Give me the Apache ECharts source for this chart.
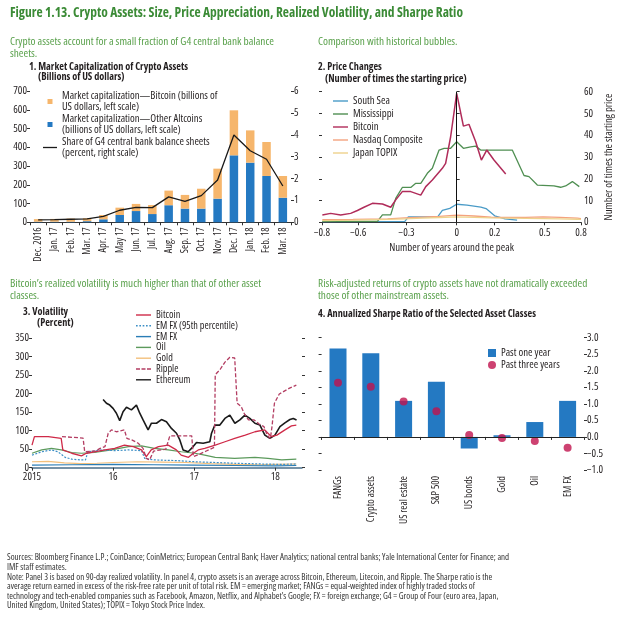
<!DOCTYPE html>
<html><head><meta charset="utf-8">
<script src="https://cdn.jsdelivr.net/npm/echarts@6/dist/echarts.min.js"></script>
<style>html,body{margin:0;padding:0;background:#fff}#c{width:620px;height:619px}</style>
</head><body><div id="c"></div>
<script>
// ---------- Panel 1: market capitalization ----------
const months = ['Dec. 2016','Jan. 17','Feb. 17','Mar. 17','Apr. 17','May 17','Jun. 17','Jul. 17','Aug. 17','Sep. 17','Oct. 17','Nov. 17','Dec. 17','Jan. 18','Feb. 18','Mar. 18'];
const altcoinCap = [3,3,3,6,16,39,60,44,91,73,73,126,357,318,247,131];
const bitcoinCap = [14,15,17,16,23,39,38,48,78,73,106,160,240,172,181,116];
const g4Share = [0.11,0.12,0.14,0.16,0.27,0.55,0.68,0.67,1.16,0.96,1.22,1.93,3.99,3.27,2.88,1.66];

// ---------- Panel 2: price changes (years around peak, times starting price) ----------
const southSea = [[-0.778,0.3],[-0.30,0.4],[-0.28,2.5],[-0.11,2.5],[-0.083,5.5],[-0.04,6.4],[0,8.3],[0.06,7.9],[0.14,7.0],[0.17,6.3],[0.22,3.0],[0.28,1.6],[0.35,1.0]];
const mississippi = [[-0.778,0.4],[-0.459,0.4],[-0.43,3.4],[-0.382,3.4],[-0.353,11],[-0.315,16],[-0.266,16],[-0.237,17.9],[-0.208,17.9],[-0.17,22.5],[-0.141,24.8],[-0.102,33.2],[-0.073,34],[-0.035,34],[0,37],[0.039,34],[0.081,34.7],[0.11,35],[0.139,33.2],[0.322,33.2],[0.39,21.5],[0.419,21],[0.467,17.1],[0.563,16.7],[0.602,16.1],[0.631,16.7],[0.67,18.7],[0.71,16.4]];
const bitcoinPrice = [[-0.778,3.4],[-0.73,4.1],[-0.672,3.4],[-0.614,4.1],[-0.575,5.4],[-0.537,6.9],[-0.488,8.7],[-0.43,8.4],[-0.382,6.9],[-0.353,10.3],[-0.315,14.1],[-0.266,14.1],[-0.208,12.5],[-0.179,16.4],[-0.141,19.4],[-0.083,24.8],[-0.064,27.1],[-0.035,39.3],[0,59.2],[0.039,44.2],[0.071,45],[0.11,37],[0.143,28.6],[0.174,33.2],[0.216,28.6],[0.284,22.2]];
const nasdaq = [[-0.778,1.2],[-0.6,1.3],[-0.4,1.6],[-0.3,2.0],[-0.2,2.4],[-0.1,2.7],[0,3.3],[0.1,2.9],[0.2,2.4],[0.3,2.2],[0.4,2.3],[0.5,2.5],[0.6,2.3],[0.7,1.9],[0.72,1.7]];
const topix = [[-0.778,0.8],[-0.6,1.0],[-0.4,1.3],[-0.3,1.6],[-0.2,1.9],[-0.1,2.2],[0,2.5],[0.1,2.3],[0.2,2.0],[0.3,1.9],[0.4,1.8],[0.5,1.7],[0.6,1.6],[0.7,1.4],[0.72,1.3]];
const p2TickValues = [-0.78,-0.57,-0.29,0,0.22,0.51,0.72];
const p2TickLabels = ['\u22120.8','\u22120.6','\u22120.3','0','0.2','0.5','0.8'];

// ---------- Panel 3: volatility (decimal year, percent) ----------
const volBitcoin = [[2015.0,61],[2015.03,84],[2015.2,84],[2015.36,79],[2015.38,48],[2015.49,39],[2015.61,32],[2015.67,39],[2015.77,43],[2015.9,48],[2016.02,52],[2016.14,61],[2016.25,57],[2016.35,48],[2016.41,30],[2016.47,48],[2016.56,57],[2016.68,61],[2016.78,48],[2016.84,34],[2016.93,28],[2016.99,39],[2017.05,48],[2017.13,52],[2017.26,61],[2017.38,70],[2017.5,79],[2017.63,88],[2017.75,97],[2017.87,102],[2017.95,84],[2018.02,88],[2018.12,102],[2018.2,113],[2018.26,115]];
const volEmfx95 = [[2015.0,34],[2015.12,43],[2015.24,48],[2015.32,43],[2015.41,28],[2015.49,23],[2015.61,21],[2015.66,21],[2015.69,43],[2015.86,48],[2016.02,46],[2016.19,48],[2016.35,46],[2016.39,25],[2016.51,21],[2016.8,19],[2017.01,16],[2017.26,14],[2017.5,12],[2017.83,10],[2018.08,9],[2018.26,10]];
const volEmfx = [[2015.0,7],[2015.5,8],[2016.0,9],[2016.5,8],[2017.0,7],[2017.5,6],[2018.0,5],[2018.26,6]];
const volOil = [[2015.0,39],[2015.12,48],[2015.24,52],[2015.36,48],[2015.49,41],[2015.61,39],[2015.77,41],[2015.98,48],[2016.19,57],[2016.35,59],[2016.51,52],[2016.68,48],[2016.84,43],[2017.01,39],[2017.13,34],[2017.26,28],[2017.5,25],[2017.75,28],[2017.91,25],[2018.08,21],[2018.26,23]];
const volGold = [[2015.0,16],[2015.2,17],[2015.4,13],[2015.6,11],[2015.8,12],[2016.0,14],[2016.3,16],[2016.6,15],[2016.9,14],[2017.2,11],[2017.5,9],[2017.8,8],[2018.0,9],[2018.26,10]];
const volRipple = [[2015.37,84],[2015.5,82],[2015.63,80],[2015.65,43],[2015.78,45],[2015.84,52],[2015.9,57],[2015.94,93],[2015.98,102],[2016.04,97],[2016.14,102],[2016.17,79],[2016.23,75],[2016.31,66],[2016.37,52],[2016.41,25],[2016.45,21],[2016.5,45],[2016.65,50],[2016.7,86],[2016.97,86],[2016.99,30],[2017.05,35],[2017.15,45],[2017.25,55],[2017.26,251],[2017.32,265],[2017.38,285],[2017.44,298],[2017.5,296],[2017.53,174],[2017.58,165],[2017.62,145],[2017.67,129],[2017.74,129],[2017.8,118],[2017.86,111],[2017.9,88],[2017.94,79],[2017.96,111],[2017.99,174],[2018.05,199],[2018.17,214],[2018.26,223]];
const volEthereum = [[2015.877,184],[2015.918,174],[2015.959,169],[2016.0,160],[2016.041,147],[2016.082,127],[2016.123,151],[2016.165,163],[2016.226,156],[2016.288,169],[2016.329,147],[2016.37,129],[2016.432,102],[2016.473,120],[2016.535,120],[2016.597,130],[2016.658,124],[2016.72,106],[2016.782,93],[2016.823,75],[2016.864,48],[2016.926,43],[2016.988,57],[2017.029,68],[2017.111,66],[2017.193,70],[2017.214,93],[2017.255,115],[2017.317,115],[2017.379,133],[2017.44,142],[2017.502,120],[2017.564,129],[2017.626,142],[2017.687,133],[2017.749,120],[2017.811,115],[2017.872,88],[2017.934,79],[2017.996,88],[2018.058,111],[2018.119,121],[2018.181,130],[2018.222,133],[2018.263,129]];
const p3TickValues = [2015,2016,2017,2018];
const p3TickLabels = ['2015','16','17','18'];

// ---------- Panel 4: Sharpe ratio ----------
const assetClasses = ['FANGs','Crypto assets','US real estate','S&P 500','US bonds','Gold','Oil','EM FX'];
const sharpeOneYear = [2.67,2.53,1.09,1.67,-0.35,0.05,0.45,1.09];
const sharpeThreeYears = [1.64,1.52,1.07,0.78,0.06,-0.03,-0.12,-0.33];

const footLines = ['Sources: Bloomberg Finance L.P.; CoinDance; CoinMetrics; European Central Bank; Haver Analytics; national central banks; Yale International Center for Finance; and',
  'IMF staff estimates.',
  'Note: Panel 3 is based on 90-day realized volatility. In panel 4, crypto assets is an average across Bitcoin, Ethereum, Litecoin, and Ripple. The Sharpe ratio is the',
  'average return earned in excess of the risk-free rate per unit of total risk. EM = emerging market; FANGs = equal-weighted index of highly traded stocks of',
  'technology and tech-enabled companies such as Facebook, Amazon, Netflix, and Alphabet\u2019s Google; FX = foreign exchange; G4 = Group of Four (euro area, Japan,',
  'United Kingdom, United States); TOPIX = Tokyo Stock Price Index.'];

// ---- pick an installed narrow sans (with a real regular weight) and a size factor so text widths match ----
const pick = (function(){
  const ctx = document.createElement('canvas').getContext('2d');
  const s = footLines[0];
  const target = 503; // width of the first source line at 8.3px
  const configs = [];
  ['Liberation Sans Narrow','Arial Narrow','Noto Sans Condensed','Noto Sans SemiCondensed','Noto Sans ExtraCondensed','Open Sans Condensed','Open Sans SemiCondensed','Roboto Condensed','DejaVu Sans Condensed'].forEach(f=>configs.push({st:'normal',f}));
  ['semi-condensed','condensed','extra-condensed'].forEach(st=>['Noto Sans','Open Sans','Roboto','Liberation Sans','DejaVu Sans'].forEach(f=>configs.push({st,f})));
  configs.push({st:'normal',f:'Liberation Sans'});
  const meas = (font) => { ctx.font = '10px monospace'; ctx.font = font; if (ctx.font.indexOf('monospace') === 0 || ctx.font === '10px monospace') return null; return ctx.measureText(s).width; };
  let best = null;
  for (const c of configs){
    const w1 = meas(`${c.st} normal 8.3px "${c.f}", monospace`);
    const w2 = meas(`${c.st} normal 8.3px "${c.f}", serif`);
    if (w1 == null || w2 == null || Math.abs(w1-w2) >= 0.5) continue;
    const wb = meas(`${c.st} bold 8.3px "${c.f}", serif`);
    if (wb == null || wb < w1*1.025) continue;
    const d = Math.abs(Math.log(w1/target));
    if (!best || d < best.d - 0.01) best = {c, w:w1, d};
  }
  if (!best) return {st:'normal', family:'sans-serif', k:0.82};
  return {st:best.c.st, family:`'${best.c.f}', sans-serif`, k:Math.max(0.78, Math.min(1.15, target/best.w))};
})();
const FONT = pick.family, FST = pick.st, K = pick.k;
const fs = s => +(s*K).toFixed(2);

const minus = s => String(s).replace('-', '\u2212');
const txt = (c, s, extra) => Object.assign({color:c, fontSize:fs(s), fontFamily:FONT, fontStyle:FST, fontWeight:'normal'}, extra||{});
const G_TITLE = '#3b8b36', G_SUB = '#5aa14c', DARK = '#231f20';

const axisText = {color:DARK, fontSize:fs(10), fontFamily:FONT, fontStyle:FST};
const lineAx = {show:true, lineStyle:{color:'#333', width:1}};
const tick = (len) => ({show:true, length:len||3, lineStyle:{color:'#333', width:1}});
const SOLID = 'path://M0,0H15V1.4H0Z';
const DASHED = 'path://M0,0H4V1.4H0ZM5.5,0H9.5V1.4H5.5ZM11,0H15V1.4H11Z';
const DOTTED = 'path://M0,0H1.5V1.4H0ZM3,0H4.5V1.4H3ZM6,0H7.5V1.4H6ZM9,0H10.5V1.4H9ZM12,0H13.5V1.4H12Z';

const chart = echarts.init(document.getElementById('c'), null, {renderer:'canvas'});
chart.setOption({
  backgroundColor:'#fff',
  animation:false,
  title:[
    {text:'Figure 1.13. Crypto Assets: Size, Price Appreciation, Realized Volatility, and Sharpe Ratio', left:10, top:7, padding:0, textStyle:txt(G_TITLE,12.5,{fontWeight:'bold'})},
    {text:'Crypto assets account for a small fraction of G4 central bank balance\nsheets.', left:10, top:36, padding:0, textStyle:txt(G_SUB,10.5,{lineHeight:12})},
    {text:'1. Market Capitalization of Crypto Assets', left:29, top:62, padding:0, textStyle:txt(DARK,9.5,{fontWeight:'bold'})},
    {text:'(Billions of US dollars)', left:38, top:72, padding:0, textStyle:txt(DARK,9.5,{fontWeight:'bold'})},
    {text:'Comparison with historical bubbles.', left:318, top:36, padding:0, textStyle:txt(G_SUB,10.5)},
    {text:'2. Price Changes', left:318, top:62, padding:0, textStyle:txt(DARK,9.5,{fontWeight:'bold'})},
    {text:'(Number of times the starting price)', left:325, top:74, padding:0, textStyle:txt(DARK,9.5,{fontWeight:'bold'})},
    {text:'Bitcoin\u2019s realized volatility is much higher than that of other asset\nclasses.', left:10, top:278, padding:0, textStyle:txt(G_SUB,10.5,{lineHeight:12})},
    {text:'3. Volatility', left:23, top:307, padding:0, textStyle:txt(DARK,9.5,{fontWeight:'bold'})},
    {text:'(Percent)', left:37, top:318, padding:0, textStyle:txt(DARK,9.5,{fontWeight:'bold'})},
    {text:'Risk-adjusted returns of crypto assets have not dramatically exceeded\nthose of other mainstream assets.', left:318, top:278, padding:0, textStyle:txt(G_SUB,10.5,{lineHeight:12})},
    {text:'4. Annualized Sharpe Ratio of the Selected Asset Classes', left:318, top:309, padding:0, textStyle:txt(DARK,9.5,{fontWeight:'bold'})},
    {text:footLines.join('\n'), left:7, top:553, padding:0, textStyle:txt('#333',8.3,{lineHeight:9.6})}
  ],
  legend:[
    {data:[{name:'Market capitalization\u2014Bitcoin (billions of\nUS dollars, left scale)', icon:'path://M0,0H1V1H0Z'},
           {name:'Market capitalization\u2014Other Altcoins\n(billions of US dollars, left scale)', icon:'path://M0,0H1V1H0Z'},
           {name:'Share of G4 central bank balance sheets\n(percent, right scale)', icon:SOLID}],
     orient:'vertical', left:43, top:84, padding:0, itemGap:-12, itemWidth:14, itemHeight:5,
     textStyle:txt(DARK,10,{lineHeight:11.5, padding:[12,0,0,0]})},
    {data:[{name:'South Sea',icon:SOLID},{name:'Mississippi',icon:SOLID},{name:'Bitcoin ',icon:SOLID},{name:'Nasdaq Composite',icon:SOLID},{name:'Japan TOPIX',icon:SOLID}],
     orient:'vertical', left:333, top:94.5, padding:0, itemGap:0, itemWidth:15, itemHeight:4,
     textStyle:txt(DARK,10,{lineHeight:13})},
    {data:[{name:'Bitcoin',icon:SOLID},{name:'EM FX (95th percentile)',icon:DOTTED},{name:'EM FX',icon:SOLID},{name:'Oil',icon:SOLID},{name:'Gold',icon:SOLID},{name:'Ripple',icon:DASHED},{name:'Ethereum',icon:SOLID}],
     orient:'vertical', left:136, top:309.6, padding:0, itemGap:0, itemWidth:15, itemHeight:4,
     textStyle:txt(DARK,9.5,{lineHeight:10.8})},
    {data:[{name:'Past one year', icon:'rect'},{name:'Past three years', icon:'circle'}],
     orient:'vertical', left:488, top:347, padding:0, itemGap:0, itemWidth:8, itemHeight:8,
     textStyle:txt(DARK,10,{lineHeight:12})}
  ],
  grid:[
    {left:30, top:91, width:261, height:131.3},
    {left:322, top:91.7, width:259, height:130.6},
    {left:32, top:338, width:270, height:129.7},
    {left:321.6, top:337.7, width:262.4, height:132.3}
  ],
  xAxis:[
    {type:'category', gridIndex:0, data:months, axisLine:lineAx, axisTick:tick(3),
     axisLabel:Object.assign({rotate:90, margin:5, interval:0}, axisText, {fontSize:fs(9.5)})},
    {type:'value', gridIndex:1, min:-0.78, max:0.72, axisLine:lineAx, splitLine:{show:false},
     axisTick:Object.assign(tick(3),{customValues:p2TickValues}),
     axisLabel:Object.assign({customValues:p2TickValues, margin:5, formatter:v=>p2TickLabels[p2TickValues.indexOf(v)]}, axisText),
     name:'Number of years around the peak', nameLocation:'middle', nameGap:20, nameTextStyle:axisText},
    {type:'value', gridIndex:2, min:2015, max:2018.33, axisLine:{show:true, lineStyle:{color:'#4a6f8a', width:1.5}}, splitLine:{show:false},
     axisTick:Object.assign(tick(3),{customValues:p3TickValues}),
     axisLabel:Object.assign({customValues:p3TickValues, margin:4, formatter:v=>p3TickLabels[p3TickValues.indexOf(v)]}, axisText)},
    {type:'category', gridIndex:3, data:assetClasses, axisLine:lineAx, axisTick:tick(3),
     axisLabel:Object.assign({rotate:90, margin:6, interval:0}, axisText, {fontSize:fs(9.5)})}
  ],
  yAxis:[
    {type:'value', gridIndex:0, min:0, max:700, interval:100, position:'left', splitLine:{show:false}, axisLine:{show:false}, axisTick:tick(3), axisLabel:Object.assign({margin:3}, axisText)},
    {type:'value', gridIndex:0, min:0, max:6, interval:1, position:'right', splitLine:{show:false}, axisLine:{show:false}, axisTick:tick(3), axisLabel:Object.assign({margin:3}, axisText)},
    {type:'value', gridIndex:1, min:0, max:60, interval:10, position:'right', splitLine:{show:false}, axisLine:{show:false}, axisTick:tick(3), axisLabel:Object.assign({margin:3}, axisText),
     name:'Number of times the starting price', nameLocation:'middle', nameRotate:90, nameGap:22, nameTextStyle:axisText},
    {type:'value', gridIndex:1, min:0, max:60, interval:10, position:'left', splitLine:{show:false}, axisLine:{show:false}, axisTick:tick(3), axisLabel:{show:false}},
    {type:'value', gridIndex:2, min:0, max:350, interval:50, position:'left', splitLine:{show:false}, axisLine:{show:false}, axisTick:tick(3), axisLabel:Object.assign({margin:3}, axisText)},
    {type:'value', gridIndex:2, min:0, max:350, interval:50, position:'right', splitLine:{show:false}, axisLine:{show:false}, axisTick:tick(3), axisLabel:{show:false}},
    {type:'value', gridIndex:3, min:-1, max:3, interval:0.5, position:'right', splitLine:{show:false}, axisLine:{show:false}, axisTick:tick(3), axisLabel:Object.assign({margin:3, formatter:v=>minus(v.toFixed(1))}, axisText)},
    {type:'value', gridIndex:3, min:-1, max:3, interval:0.5, position:'left', splitLine:{show:false}, axisLine:{show:false}, axisTick:tick(3), axisLabel:{show:false}}
  ],
  series:[
    // panel 1
    {name:'Market capitalization\u2014Other Altcoins\n(billions of US dollars, left scale)', type:'bar', stack:'cap', xAxisIndex:0, yAxisIndex:0, data:altcoinCap, barWidth:8.5, itemStyle:{color:'#2479c2'}},
    {name:'Market capitalization\u2014Bitcoin (billions of\nUS dollars, left scale)', type:'bar', stack:'cap', xAxisIndex:0, yAxisIndex:0, data:bitcoinCap, barWidth:8.5, itemStyle:{color:'#f6b66c'}},
    {name:'Share of G4 central bank balance sheets\n(percent, right scale)', type:'line', xAxisIndex:0, yAxisIndex:1, data:g4Share, symbol:'none', lineStyle:{color:'#1a1a1a', width:1.3}, itemStyle:{color:'#1a1a1a'}},
    // panel 2
    {name:'South Sea', type:'line', xAxisIndex:1, yAxisIndex:2, data:southSea, symbol:'none', lineStyle:{color:'#4a9bc7', width:1.3}, itemStyle:{color:'#4a9bc7'}},
    {name:'Mississippi', type:'line', xAxisIndex:1, yAxisIndex:2, data:mississippi, symbol:'none', lineStyle:{color:'#4f8f52', width:1.3}, itemStyle:{color:'#4f8f52'}},
    {name:'Nasdaq Composite', type:'line', xAxisIndex:1, yAxisIndex:2, data:nasdaq, symbol:'none', lineStyle:{color:'#f4a27e', width:1.3}, itemStyle:{color:'#f4a27e'}},
    {name:'Japan TOPIX', type:'line', xAxisIndex:1, yAxisIndex:2, data:topix, symbol:'none', lineStyle:{color:'#eed28c', width:1.3}, itemStyle:{color:'#eed28c'}},
    {name:'Bitcoin ', type:'line', xAxisIndex:1, yAxisIndex:2, data:bitcoinPrice, symbol:'none', lineStyle:{color:'#b02c5a', width:1.5}, itemStyle:{color:'#b02c5a'},
     markLine:{silent:true, symbol:'none', label:{show:false}, lineStyle:{color:'#111', width:1, type:'solid'}, data:[[{coord:[0,0]},{coord:[0,60]}]]}},
    // panel 3
    {name:'Gold', type:'line', xAxisIndex:2, yAxisIndex:4, data:volGold, symbol:'none', lineStyle:{color:'#f3c07c', width:1.2}, itemStyle:{color:'#f3c07c'}},
    {name:'EM FX', type:'line', xAxisIndex:2, yAxisIndex:4, data:volEmfx, symbol:'none', lineStyle:{color:'#2a7db6', width:1.2}, itemStyle:{color:'#2a7db6'}},
    {name:'Oil', type:'line', xAxisIndex:2, yAxisIndex:4, data:volOil, symbol:'none', lineStyle:{color:'#5c9a5c', width:1.2}, itemStyle:{color:'#5c9a5c'}},
    {name:'EM FX (95th percentile)', type:'line', xAxisIndex:2, yAxisIndex:4, data:volEmfx95, symbol:'none', lineStyle:{color:'#3d8fc6', width:1.2, type:[2,1.5]}, itemStyle:{color:'#3d8fc6'}},
    {name:'Ethereum', type:'line', xAxisIndex:2, yAxisIndex:4, data:volEthereum, symbol:'none', lineStyle:{color:'#1a1a1a', width:1.6}, itemStyle:{color:'#1a1a1a'}},
    {name:'Bitcoin', type:'line', xAxisIndex:2, yAxisIndex:4, data:volBitcoin, symbol:'none', lineStyle:{color:'#cf2a48', width:1.3}, itemStyle:{color:'#cf2a48'}},
    {name:'Ripple', type:'line', xAxisIndex:2, yAxisIndex:4, data:volRipple, symbol:'none', lineStyle:{color:'#b33d62', width:1.3, type:[4,2]}, itemStyle:{color:'#b33d62'}},
    // panel 4
    {name:'Past one year', type:'bar', xAxisIndex:3, yAxisIndex:6, data:sharpeOneYear, barWidth:17, itemStyle:{color:'#2479c2'},
     markLine:{silent:true, symbol:'none', label:{show:false}, lineStyle:{color:'#222', width:1, type:'solid'}, data:[{yAxis:0}]}},
    {name:'Past three years', type:'scatter', xAxisIndex:3, yAxisIndex:6, data:sharpeThreeYears, symbol:'circle', symbolSize:8, itemStyle:{color:'#c0134d'}}
  ]
});
</script></body></html>
